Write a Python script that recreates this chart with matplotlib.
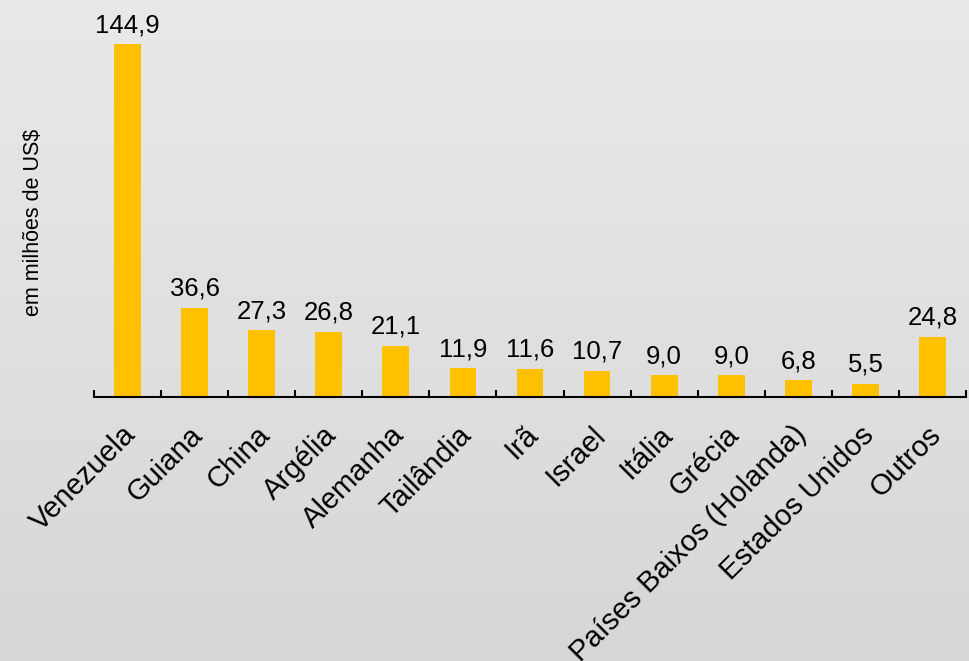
import numpy as np
import matplotlib
matplotlib.use('Agg')
import matplotlib.pyplot as plt
from matplotlib.transforms import ScaledTranslation

plt.rcParams['font.family'] = ['Liberation Sans', 'DejaVu Sans']

paises = ['Venezuela', 'Guiana', 'China', 'Argélia', 'Alemanha', 'Tailândia', 'Irã',
          'Israel', 'Itália', 'Grécia', 'Países Baixos (Holanda)', 'Estados Unidos', 'Outros']
valores = [144.9, 36.6, 27.3, 26.8, 21.1, 11.9, 11.6, 10.7, 9.0, 9.0, 6.8, 5.5, 24.8]
rotulo_y = 'em milhões de US$'

fig = plt.figure(figsize=(9.7, 6.61), dpi=100)

# fundo em degradê cinza
bg = fig.add_axes([0, 0, 1, 1], zorder=-1)
grad = np.linspace(0, 1, 256).reshape(-1, 1)
bg.imshow(grad, aspect='auto', cmap=matplotlib.colors.LinearSegmentedColormap.from_list(
    'g', ['#e9e9e9', '#d7d7d7']), extent=[0, 1, 0, 1])
bg.axis('off')

ax = fig.add_axes([94 / 970, 1 - 397 / 661, 872 / 970, 365.4 / 661])
ax.set_facecolor('none')

x = np.arange(len(paises))
ax.bar(x, valores, width=0.4, color='#FFC000')
for xi, v in zip(x, valores):
    ax.annotate(f'{v:.1f}'.replace('.', ','), (xi, v), xytext=(0, 5), textcoords='offset points',
                ha='center', va='bottom', fontsize=18.5)

ax.set_xlim(-0.5, len(paises) - 0.5)
ax.set_ylim(0, 150)

for s in ['top', 'right', 'left']:
    ax.spines[s].set_visible(False)
ax.spines['bottom'].set_linewidth(1.5)
ax.set_yticks([])

ax.set_xticks(np.arange(-0.5, len(paises), 1.0))
ax.set_xticklabels([])
ax.tick_params(axis='x', direction='in', length=5, width=1.5)
ax.set_xticks(x, minor=True)
ax.set_xticklabels(paises, minor=True, rotation=45, ha='right', va='top',
                   rotation_mode='anchor', fontsize=21)
ax.tick_params(axis='x', which='minor', length=0, pad=17)
desloc = ScaledTranslation(-6 / 100, 0, fig.dpi_scale_trans)
for lbl in ax.get_xticklabels(minor=True):
    lbl.set_transform(lbl.get_transform() + desloc)

fig.text(34 / 970, 1 - 222 / 661, rotulo_y, rotation=90, ha='center', va='center', fontsize=15.5)

fig.savefig('out.png', dpi=100)
